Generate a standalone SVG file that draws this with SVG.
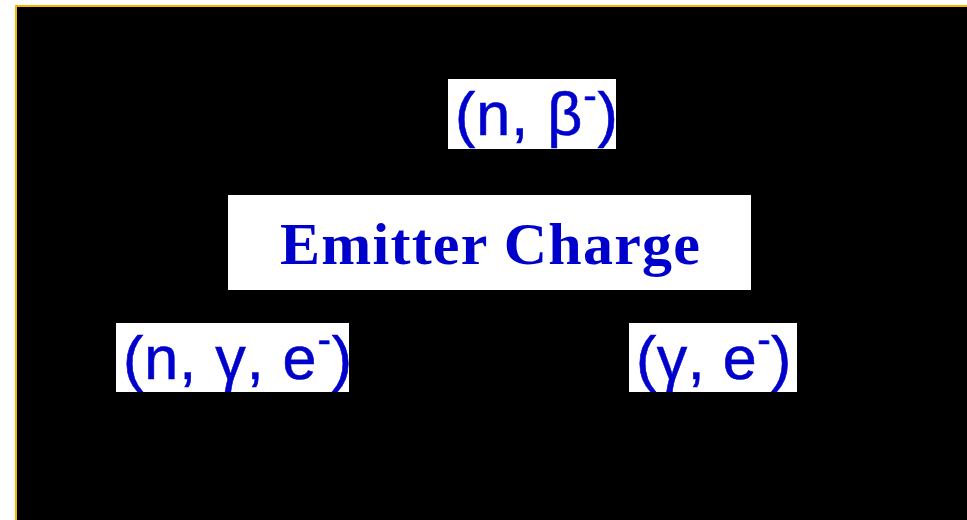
<svg xmlns="http://www.w3.org/2000/svg" width="967" height="520" viewBox="0 0 967 520">
  <defs>
    <style>
      .lbl { font-family: "Liberation Sans", Arial, sans-serif; font-size: 61px; fill: #0000cc; stroke: #0000cc; stroke-width: 0.6px; }
      .main { font-family: "Liberation Serif", "Times New Roman", serif; font-weight: bold; font-size: 60px; fill: #0000cc; }
      .box { fill: #ffffff; }
    </style>
    <clipPath id="c1"><rect x="448" y="79" width="168" height="70"/></clipPath>
    <clipPath id="c3"><rect x="116" y="323" width="233" height="69"/></clipPath>
    <clipPath id="c4"><rect x="629" y="323" width="168" height="69"/></clipPath>
  </defs>
  <rect x="0" y="0" width="967" height="520" fill="#ffffff"/>
  <rect x="16" y="6" width="960" height="520" fill="#000000" stroke="#f5b800" stroke-width="2"/>

  <g id="node-n-beta">
    <rect class="box" x="448" y="79" width="168" height="70"/>
    <g clip-path="url(#c1)">
      <text class="lbl" x="455" y="135" letter-spacing="1">(n, β<tspan font-size="40" dy="-26">-</tspan><tspan dy="26">)</tspan></text>
    </g>
  </g>

  <g id="node-emitter">
    <rect class="box" x="228" y="195" width="523" height="95"/>
    <text class="main" x="280" y="264" textLength="420" lengthAdjust="spacing">Emitter Charge</text>
  </g>

  <g id="node-n-gamma-e">
    <rect class="box" x="116" y="323" width="233" height="69"/>
    <g clip-path="url(#c3)">
      <text class="lbl" x="123" y="379" letter-spacing="1">(n, γ, e<tspan font-size="40" dy="-26">-</tspan><tspan dy="26">)</tspan></text>
    </g>
  </g>

  <g id="node-gamma-e">
    <rect class="box" x="629" y="323" width="168" height="69"/>
    <g clip-path="url(#c4)">
      <text class="lbl" x="636" y="379" letter-spacing="0.5">(γ, e<tspan font-size="40" dy="-26">-</tspan><tspan dy="26">)</tspan></text>
    </g>
  </g>

  <g id="connectors"></g>
</svg>
